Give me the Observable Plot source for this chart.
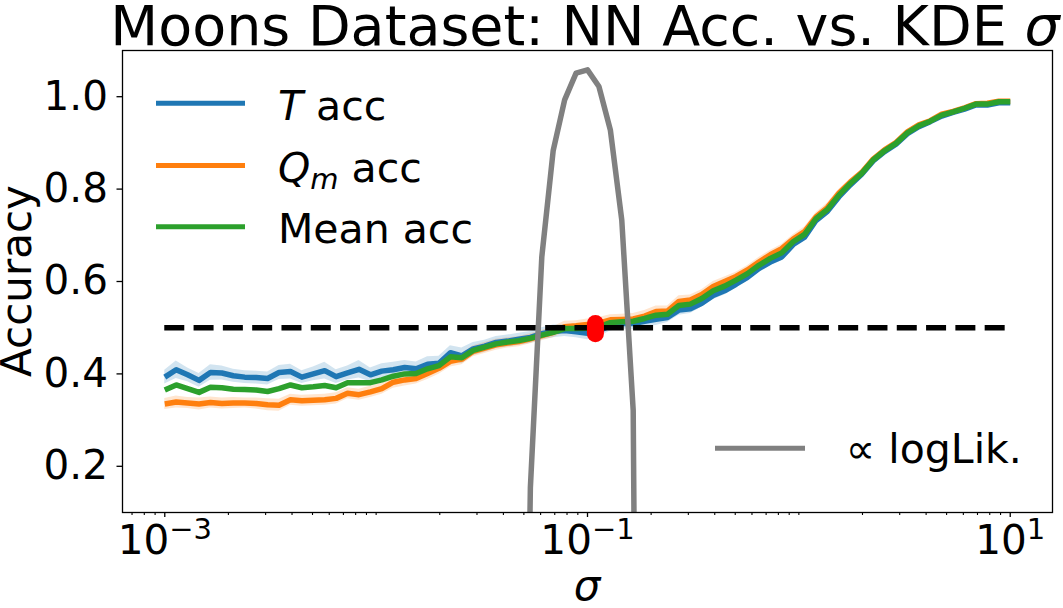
<!DOCTYPE html>
<html><head><meta charset="utf-8">
<script src="https://cdn.jsdelivr.net/npm/d3@7"></script>
<script src="https://cdn.jsdelivr.net/npm/@observablehq/plot@0.6"></script>
<style>
body{margin:0;background:#fff;}
#chart svg{display:block;}
</style></head><body><div id="chart"></div>
<script>
// σ grid, as np.logspace(-3, 1, 75)
const sigma = Array.from({length: 75}, (_, i) => Math.pow(10, -3 + 4 * i / 74));

const tAcc = [0.393,0.409,0.398,0.386,0.403,0.402,0.396,0.393,0.392,0.390,
  0.403,0.405,0.393,0.400,0.407,0.394,0.402,0.410,0.398,0.406,
  0.409,0.414,0.411,0.421,0.423,0.446,0.439,0.454,0.460,0.468,
  0.471,0.475,0.479,0.487,0.492,0.494,0.491,0.488,0.493,0.505,
  0.509,0.509,0.514,0.518,0.522,0.538,0.541,0.553,0.570,0.580,
  0.594,0.609,0.628,0.642,0.653,0.680,0.696,0.732,0.752,0.783,
  0.809,0.832,0.861,0.881,0.897,0.920,0.935,0.946,0.958,0.966,
  0.973,0.982,0.982,0.987,0.987];
const qAcc = [0.335,0.339,0.337,0.335,0.338,0.336,0.337,0.337,0.336,0.333,
  0.332,0.344,0.342,0.343,0.344,0.347,0.358,0.355,0.361,0.368,
  0.382,0.387,0.390,0.401,0.412,0.427,0.432,0.449,0.456,0.463,
  0.467,0.470,0.476,0.483,0.490,0.502,0.504,0.507,0.510,0.517,
  0.518,0.519,0.525,0.535,0.536,0.557,0.560,0.572,0.589,0.600,
  0.611,0.625,0.642,0.658,0.671,0.692,0.708,0.740,0.760,0.791,
  0.815,0.836,0.865,0.885,0.901,0.924,0.939,0.948,0.962,0.968,
  0.976,0.985,0.986,0.990,0.990];
const meanAcc = [0.365,0.376,0.368,0.360,0.371,0.370,0.367,0.366,0.365,0.362,
  0.368,0.376,0.370,0.372,0.375,0.370,0.381,0.381,0.381,0.387,
  0.395,0.400,0.401,0.411,0.418,0.437,0.435,0.451,0.458,0.465,
  0.469,0.472,0.477,0.484,0.490,0.498,0.498,0.499,0.502,0.511,
  0.513,0.514,0.520,0.527,0.529,0.548,0.551,0.563,0.580,0.590,
  0.603,0.617,0.635,0.650,0.662,0.686,0.702,0.736,0.756,0.787,
  0.812,0.834,0.863,0.883,0.899,0.922,0.937,0.947,0.960,0.967,
  0.975,0.984,0.984,0.989,0.989];
const tStd = [0.015,0.019,0.015,0.015,0.017,0.015,0.014,0.014,0.014,0.014,
  0.015,0.016,0.014,0.015,0.018,0.015,0.015,0.019,0.015,0.016,
  0.016,0.015,0.015,0.016,0.015,0.015,0.017,0.014,0.013,0.013,
  0.013,0.013,0.013,0.013,0.014,0.013,0.013,0.014,0.013,0.012,
  0.012,0.013,0.012,0.013,0.011,0.011,0.010,0.009,0.009,0.009,
  0.008,0.008,0.008,0.008,0.008,0.007,0.007,0.007,0.007,0.006,
  0.005,0.005,0.005,0.005,0.005,0.004,0.004,0.004,0.004,0.004,
  0.003,0.003,0.003,0.003,0.003];
const qStd = [0.012,0.013,0.012,0.013,0.012,0.012,0.012,0.011,0.012,0.013,
  0.013,0.012,0.012,0.012,0.012,0.012,0.012,0.012,0.012,0.012,
  0.013,0.013,0.012,0.013,0.013,0.012,0.012,0.012,0.012,0.012,
  0.011,0.011,0.011,0.011,0.012,0.012,0.011,0.012,0.012,0.011,
  0.011,0.012,0.012,0.012,0.011,0.012,0.011,0.010,0.011,0.010,
  0.009,0.009,0.010,0.009,0.009,0.009,0.010,0.009,0.010,0.008,
  0.007,0.006,0.005,0.005,0.005,0.005,0.004,0.004,0.004,0.004,
  0.003,0.003,0.003,0.003,0.003];

// scaled log-likelihood, defined on sigma[31..42]
const logLikStart = 31;
const logLik = [-1.5,0.154,0.653,0.884,0.993,1.051,1.058,1.022,0.928,0.733,0.321,-3.0];

const bestSigma = 0.109;
const bestAcc = [0.487, 0.509];
const chanceLevel = 0.5;

const yTicks = [0.2, 0.4, 0.6, 0.8, 1.0];
const xMajorTicks = [1e-3, 1e-1, 1e1];
const xMinorTicks = [];
for (let d = -4; d <= 1; d++) for (let k = 1; k <= 9; k++) {
  const v = k * Math.pow(10, d);
  if (k === 1 && d % 2 !== 0) continue;
  if (v > Math.pow(10, -3.2) && v < Math.pow(10, 1.2)) xMinorTicks.push(v);
}
const seriesLabels = ["T acc", "Q_m acc", "Mean acc"];
const colors = ["#1f77b4", "#ff7f0e", "#2ca02c"];
const logLikColor = "#808080";

const lw = 5.5;
const tLo = tAcc.map((v, i) => v - tStd[i]), tHi = tAcc.map((v, i) => v + tStd[i]);
const qLo = qAcc.map((v, i) => v - qStd[i]), qHi = qAcc.map((v, i) => v + qStd[i]);
const llSigma = sigma.slice(logLikStart, logLikStart + logLik.length);

const chart = Plot.plot({
  width: 1063, height: 608,
  marginLeft: 122, marginRight: 11, marginTop: 50, marginBottom: 96,
  x: {type: "log", domain: [Math.pow(10, -3.2), Math.pow(10, 1.2)]},
  y: {domain: [0.1, 1.1]},
  style: {fontFamily: "'DejaVu Sans', sans-serif", background: "#fff", color: "#000", overflow: "visible"},
  marks: [
    Plot.areaY(sigma, {x: sigma, y1: tLo, y2: tHi, fill: colors[0], fillOpacity: 0.2}),
    Plot.areaY(sigma, {x: sigma, y1: qLo, y2: qHi, fill: colors[1], fillOpacity: 0.2}),
    Plot.lineY(sigma, {x: sigma, y: tAcc, stroke: colors[0], strokeWidth: lw, strokeLinecap: "butt"}),
    Plot.lineY(sigma, {x: sigma, y: qAcc, stroke: colors[1], strokeWidth: lw, strokeLinecap: "butt"}),
    Plot.lineY(sigma, {x: sigma, y: meanAcc, stroke: colors[2], strokeWidth: lw, strokeLinecap: "butt"}),
    Plot.ruleY([chanceLevel], {x1: sigma[0], x2: sigma[sigma.length - 1], stroke: "#000", strokeWidth: lw, strokeDasharray: "20,9.3", strokeLinecap: "butt"}),
    Plot.lineY(logLik, {x: llSigma, y: logLik, stroke: logLikColor, strokeWidth: lw, clip: true}),
    Plot.lineY(bestAcc, {x: [bestSigma, bestSigma], y: bestAcc, stroke: "red", strokeWidth: 17, strokeLinecap: "round"}),
    Plot.frame({stroke: "#000", strokeWidth: 1.3}),
    Plot.axisY(yTicks, {tickSize: 5.5, tickPadding: 9, tickFormat: d3.format(".1f"), fontSize: 40.5, label: null, strokeWidth: 1.3}),
    Plot.axisX(xMinorTicks, {tickSize: 3, tickFormat: () => "", label: null, strokeWidth: 1.1}),
    Plot.axisX(xMajorTicks, {tickSize: 5, tickPadding: 7.5, tickFormat: d => "10^" + Math.round(Math.log10(d)), fontSize: 40.5, label: null, strokeWidth: 1.3})
  ]
});
document.getElementById("chart").appendChild(chart);

const svg = d3.select(chart);
// superscript exponents on x tick labels
svg.selectAll('g[aria-label="x-axis tick label"] text').each(function () {
  const t = d3.select(this);
  const s = t.text();
  if (!s.includes("^")) return;
  const [base, exp] = s.split("^");
  t.text(null);
  t.append("tspan").text(base);
  t.append("tspan").attr("font-size", 29).attr("dy", -15).text(exp.replace("-", "\u2212"));
});

const font = "'DejaVu Sans', sans-serif";
// title
const title = svg.append("text").attr("x", 585).attr("y", 45).attr("text-anchor", "middle")
  .attr("font-family", font).attr("font-size", 55.5).attr("fill", "#000");
title.append("tspan").text("Moons Dataset: NN Acc. vs. KDE ");
title.append("tspan").attr("font-style", "italic").text("σ");
// axis labels
svg.append("text").attr("transform", "translate(30.5,281) rotate(-90)").attr("text-anchor", "middle")
  .attr("font-family", font).attr("font-size", 42).attr("fill", "#000").text("Accuracy");
svg.append("text").attr("x", 587).attr("y", 600).attr("text-anchor", "middle")
  .attr("font-family", font).attr("font-size", 42).attr("font-style", "italic").attr("fill", "#000").text("σ");

// legend (upper left)
const legRows = [103.3, 165.5, 226.7];
legRows.forEach((y, i) => {
  svg.append("line").attr("x1", 156).attr("x2", 245).attr("y1", y).attr("y2", y)
    .attr("stroke", colors[i]).attr("stroke-width", 5);
  const t = svg.append("text").attr("x", 278).attr("y", y + 16.6).attr("text-anchor", "start")
    .attr("font-family", font).attr("font-size", 41).attr("fill", "#000");
  if (i === 0) {
    t.append("tspan").attr("font-style", "italic").text("T");
    t.append("tspan").text(" acc");
  } else if (i === 1) {
    t.append("tspan").attr("font-style", "italic").text("Q");
    t.append("tspan").attr("font-style", "italic").attr("font-size", 29).attr("dy", 7).text("m");
    t.append("tspan").attr("dy", -7).text(" acc");
  } else {
    t.text(seriesLabels[2]);
  }
});
// legend (lower right)
svg.append("line").attr("x1", 715).attr("x2", 805).attr("y1", 448.3).attr("y2", 448.3)
  .attr("stroke", logLikColor).attr("stroke-width", 5);
svg.append("text").attr("x", 846).attr("y", 463.3).attr("text-anchor", "start").attr("font-family", font).attr("font-size", 41)
  .attr("fill", "#000").text("\u221D logLik.");
</script></body></html>
